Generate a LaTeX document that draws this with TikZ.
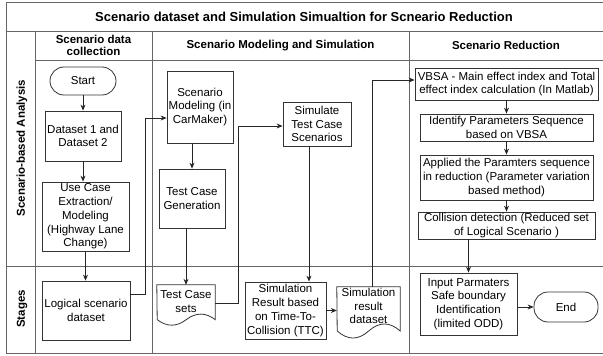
\documentclass[tikz,border=0pt]{standalone}
\usepackage{fontspec}
\setmainfont{Liberation Sans}
\usetikzlibrary{arrows.meta,calc}
\tikzset{font=\fontsize{11.5}{13.7}\selectfont}
\tikzset{box/.style={draw=black!80, line width=.8pt, inner sep=0pt, align=center}}
\tikzset{term/.style={box, rounded corners=14pt}}
\tikzset{docbox/.style={inner sep=0pt}}
\tikzset{lane/.style={draw=black!60, line width=.8pt}}
\tikzset{arr/.style={draw=black!85, line width=.8pt, -{Stealth[length=6pt,width=5pt]}}}
\tikzset{hdr/.style={font=\fontsize{11.5}{12.5}\selectfont\bfseries, align=center}}

% document outline: node, width, height
\newcommand{\docwave}[3]{%
  \draw[box] (#1.north west) -- (#1.north east) -- ++(0,{.85*#3})
    .. controls +({-.167*#2},{-.18*#3}) and +({.167*#2},{-.18*#3}) .. ++({-.5*#2},0)
    .. controls +({-.167*#2},{.18*#3}) and +({.167*#2},{.18*#3}) .. ++({-.5*#2},0)
    -- cycle;}

\begin{document}
\begin{tikzpicture}[x=1pt,y=-1pt]
  \useasboundingbox (0,0) rectangle (603,356);

  % swimlanes
  \draw[lane] (6,2) -- (603,2);
  \draw[lane] (6,31) -- (603,31);
  \draw[lane] (35,60) -- (603,60);
  \draw[lane] (6,266) -- (603,266);
  \draw[lane] (6,353) -- (603,353);
  \draw[lane] (6,2) -- (6,353);
  \foreach \x in {35,152,409}
    \draw[lane] (\x,31) -- (\x,353);

  \node[font=\fontsize{13}{15}\selectfont\bfseries] (ttl) at (304,17) {Scenario dataset and Simulation Simualtion for Scneario Reduction};
  \node[hdr] (h1) at (93.5,45.5) {Scenario data\\collection};
  \node[hdr] (h2) at (280.5,45.5) {Scenario Modeling and Simulation};
  \node[hdr] (h3) at (506,45.5) {Scenario Reduction};
  \node[hdr, rotate=90] (la) at (22,148) {Scenario-based Analysis};
  \node[hdr, rotate=90] (lb) at (22,309) {Stages};

  % data collection
  \node[term, minimum width=66pt, minimum height=28pt] (start) at (83,81) {Start};
  \node[box, minimum width=76pt, minimum height=50pt] (ds) at (83,136) {Dataset 1 and\\Dataset 2};
  \node[box, minimum width=87pt, minimum height=69pt] (uc) at (85.5,216.5) {Use Case\\Extraction/\\Modeling\\(Highway Lane\\Change)};
  \node[box, minimum width=88pt, minimum height=59pt] (lsd) at (86,310.5) {Logical scenario\\dataset};

  % modeling and simulation
  \node[box, minimum width=66pt, minimum height=72pt] (smod) at (200,107) {Scenario\\Modeling (in\\CarMaker)};
  \node[box, minimum width=66pt, minimum height=59pt] (tcg) at (192,198.5) {Test Case\\Generation};
  \node[docbox, minimum width=58pt, minimum height=41pt,
        label={[align=center,yshift=4pt]center:{Test Case\\sets}}] (tcs) at (186,305.5) {};
  \docwave{tcs}{58}{41}
  \node[box, minimum width=68pt, minimum height=44pt] (simr) at (317,124) {Simulate\\Test Case\\Scenarios};
  \node[box, minimum width=81pt, minimum height=57pt] (sres) at (285.5,310.5) {Simulation\\Result based\\on Time-To-\\Collision (TTC)};
  \node[docbox, minimum width=63pt, minimum height=52pt,
        label={[align=center,yshift=7pt]center:{Simulation\\result\\dataset}}] (srd) at (368.5,313) {};
  \docwave{srd}{63}{52}

  % reduction
  \node[box, minimum width=183pt, minimum height=32pt] (vbsa) at (506.5,84) {VBSA - Main effect index and Total\\effect index calculation (In Matlab)};
  \node[box, minimum width=173pt, minimum height=27pt] (ident) at (506.5,127.5) {Identify Parameters Sequence\\based on VBSA};
  \node[box, minimum width=173pt, minimum height=45pt] (appl) at (506.5,177.5) {Applied the Paramters sequence\\in reduction (Parameter variation\\based method)};
  \node[box, minimum width=177pt, minimum height=27pt] (coll) at (506.5,225.5) {Collision detection (Reduced set\\of Logical Scenario )};
  \node[box, minimum width=97pt, minimum height=62pt] (inp) at (468.5,304) {Input Parmaters\\Safe boundary\\Identification\\(limited ODD)};
  \node[term, minimum width=64pt, minimum height=30pt] (endn) at (566,307) {End};

  \coordinate (b1) at (145,118);
  \coordinate (b2) at (238,126);

  \draw[arr] (start) -- (ds);
  \draw[arr] (ds.south) -- (ds.south |- uc.north);
  \draw[arr] (uc.south) -- (uc.south |- lsd.north);
  \draw[arr] ([yshift=16pt]lsd.east) -| (b1) -- (smod.west |- b1);
  \draw[arr] (tcg.north |- smod.south) -- (tcg.north);
  \draw[arr] (tcs.north |- tcg.south) -- (tcs.north);
  \draw[arr] ([yshift=2.5pt]tcs.east) -| (b2) -- (simr.west |- b2);
  \draw[arr] ([xshift=-8pt]simr.south) -- ([xshift=-8pt]simr.south |- sres.north);
  \draw[arr] (sres.east) -- (srd.west |- sres.east);
  \draw[arr] ([xshift=3.5pt]srd.north) |- ([yshift=4pt]vbsa.west);
  \draw[arr] (vbsa) -- (ident);
  \draw[arr] (ident) -- (appl);
  \draw[arr] (appl) -- (coll);
  \draw[arr] (inp.north |- coll.south) -- (inp.north);
  \draw[arr] (endn.west -| inp.east) -- (endn.west);
\end{tikzpicture}
\end{document}
